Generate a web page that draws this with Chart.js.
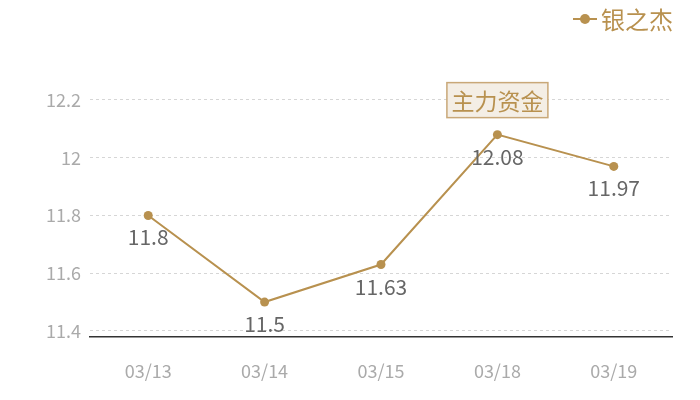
<!DOCTYPE html>
<html>
<head>
<meta charset="utf-8">
<script src="https://cdn.jsdelivr.net/npm/chart.js@4"></script>
<style>
  html, body { margin: 0; padding: 0; background: #fff; }
  #wrap { width: 700px; height: 400px; }
</style>
</head>
<body>
<div id="wrap"><canvas id="lineChart" width="700" height="400"></canvas></div>
<script>
var seriesName = '银之杰';
var dates = ['03/13', '03/14', '03/15', '03/18', '03/19'];
var prices = [11.8, 11.5, 11.63, 12.08, 11.97];
var yTicks = [11.4, 11.6, 11.8, 12, 12.2];
var markText = '主力资金';
var markIndex = 3;

var gold = '#b8914f';
var font = '"Noto Sans CJK SC", "Noto Sans", sans-serif';

// value labels, annotation box and legend
var extras = {
    id: 'extras',
    afterDatasetsDraw: function(chart) {
        var ctx = chart.ctx;
        var meta = chart.getDatasetMeta(0);
        ctx.save();
        ctx.font = '21px ' + font;
        ctx.fillStyle = '#666';
        ctx.textAlign = 'center';
        ctx.textBaseline = 'middle';
        meta.data.forEach(function(pt, i) {
            ctx.fillText(String(prices[i]), pt.x, pt.y + 22);
        });

        // annotation above the marked point
        var p = meta.data[markIndex];
        ctx.font = '23px ' + font;
        var w = 101, h = 35;
        var bx = p.x - w / 2, by = p.y - 52;
        ctx.fillStyle = '#f4eee5';
        ctx.fillRect(bx, by, w, h);
        ctx.strokeStyle = '#c9a878';
        ctx.lineWidth = 1.5;
        ctx.strokeRect(bx, by, w, h);
        ctx.fillStyle = gold;
        ctx.fillText(markText, p.x, by + h / 2 + 1);

        // legend
        ctx.strokeStyle = gold;
        ctx.lineWidth = 2;
        ctx.beginPath();
        ctx.moveTo(573, 19);
        ctx.lineTo(597, 19);
        ctx.stroke();
        ctx.fillStyle = gold;
        ctx.beginPath();
        ctx.arc(585, 19, 5, 0, Math.PI * 2);
        ctx.fill();
        ctx.textAlign = 'left';
        ctx.font = '24px ' + font;
        ctx.fillText(seriesName, 601, 20);
        ctx.restore();
    }
};

var ctxLine = document.getElementById('lineChart').getContext('2d');
var lineChart = new Chart(ctxLine, {
    type: 'line',
    data: {
        labels: dates,
        datasets: [{
            label: seriesName,
            data: prices,
            borderColor: gold,
            backgroundColor: gold,
            borderWidth: 2,
            pointRadius: 4.5,
            pointHoverRadius: 4.5,
            pointBorderWidth: 0,
            tension: 0,
            fill: false
        }]
    },
    options: {
        responsive: false,
        animation: false,
        layout: { padding: { top: 60, right: 28, left: 0, bottom: 0 } },
        plugins: {
            legend: { display: false },
            tooltip: { enabled: false }
        },
        scales: {
            x: {
                offset: true,
                grid: { display: false, drawTicks: false },
                border: { display: true, color: '#333', width: 1.5 },
                ticks: { color: '#aaa', font: { size: 18, family: font }, padding: 23 },
                afterFit: function(scale) { scale.height = 63; }
            },
            y: {
                min: 11.379,
                max: 12.3385,
                afterBuildTicks: function(scale) {
                    scale.ticks = yTicks.map(function(v) { return { value: v }; });
                },
                grid: { color: '#d6d6d6', drawTicks: false, lineWidth: 1 },
                border: { display: false, dash: [3, 3] },
                ticks: {
                    color: '#aaa',
                    font: { size: 18, family: font },
                    padding: 9,
                    callback: function(v) { return String(Number(v.toFixed(1))); }
                },
                afterFit: function(scale) { scale.width = 90; }
            }
        }
    },
    plugins: [extras]
});
</script>
</body>
</html>
